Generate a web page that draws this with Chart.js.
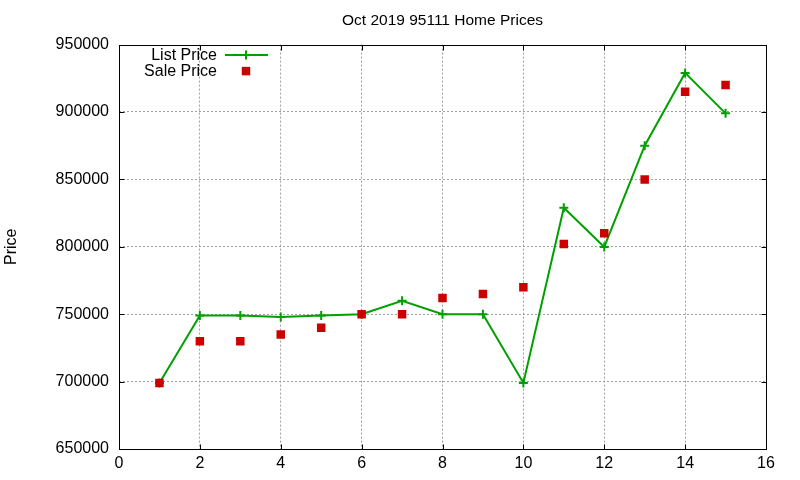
<!DOCTYPE html>
<html>
<head>
<meta charset="utf-8">
<title>Oct 2019 95111 Home Prices</title>
<script src="https://cdn.jsdelivr.net/npm/chart.js@4.4.0/dist/chart.umd.js"></script>
<style>
    body { margin: 0; background: #fff; }
    #wrap { width: 800px; height: 480px; }
</style>
</head>
<body>
<div id="wrap"><canvas id="chart" width="800" height="480"></canvas></div>
<script>
// data
const months = [1, 2, 3, 4, 5, 6, 7, 8, 9, 10, 11, 12, 13, 14, 15];
const listPrice = [699000, 749000, 749000, 748000, 749000, 750000, 759900, 750000, 750000, 699000, 829000, 799900, 875000, 929000, 899000];
const salePrice = [699000, 730000, 730000, 735000, 740000, 750000, 750000, 762000, 765000, 770000, 802000, 810000, 850000, 915000, 920000];
const xTicks = [0, 2, 4, 6, 8, 10, 12, 14, 16];
const yTicks = [650000, 700000, 750000, 800000, 850000, 900000, 950000];

const GREEN = '#00a000';
const RED = '#cc0000';
const GRID = '#a0a0a0';

Chart.defaults.font.family = "'Liberation Sans', Arial, sans-serif";
Chart.defaults.font.size = 16;
Chart.defaults.color = '#000';

const toPoints = (xs, ys) => xs.map((x, i) => ({ x: x, y: ys[i] }));

// grid lines on the frame edges are covered by the border
const gridColor = (min, max) => (ctx) => {
    const v = ctx.tick ? ctx.tick.value : null;
    return (v === min || v === max) ? 'rgba(0,0,0,0)' : GRID;
};

// black frame plus inward tick marks, gnuplot style
const framePlugin = {
    id: 'frame',
    beforeDatasetsDraw(chart) {
        const { ctx, chartArea: a, scales } = chart;
        const L = Math.round(a.left) + 0.5, R = Math.round(a.right) + 0.5;
        const T = Math.round(a.top) + 0.5, B = Math.round(a.bottom) + 0.5;
        const len = 5;
        ctx.save();
        ctx.strokeStyle = '#000';
        ctx.lineWidth = 1;
        ctx.beginPath();
        xTicks.slice(1, -1).forEach(v => {
            const px = Math.round(scales.x.getPixelForValue(v)) + 0.5;
            ctx.moveTo(px, B); ctx.lineTo(px, B - len);
            ctx.moveTo(px, T); ctx.lineTo(px, T + len);
        });
        yTicks.slice(1, -1).forEach(v => {
            const py = Math.round(scales.y.getPixelForValue(v)) + 0.5;
            ctx.moveTo(L, py); ctx.lineTo(L + len, py);
            ctx.moveTo(R, py); ctx.lineTo(R - len, py);
        });
        ctx.stroke();
        ctx.strokeRect(L, T, R - L, B - T);
        ctx.restore();
    }
};

// key in the top-left corner: text on the left, sample on the right
const keyPlugin = {
    id: 'key',
    afterDatasetsDraw(chart) {
        const { ctx, chartArea: a } = chart;
        ctx.save();
        ctx.font = "16px 'Liberation Sans', Arial, sans-serif";
        ctx.fillStyle = '#000';
        ctx.textAlign = 'right';
        ctx.textBaseline = 'middle';
        chart.data.datasets.forEach((ds, i) => {
            const y = a.top + 10 + i * 16;
            ctx.fillText(ds.label, a.left + 98, y + 1);
            if (ds.showLine) {
                ctx.strokeStyle = ds.borderColor;
                ctx.lineWidth = ds.borderWidth;
                ctx.beginPath();
                ctx.moveTo(a.left + 106, y + 0.5);
                ctx.lineTo(a.left + 149, y + 0.5);
                ctx.stroke();
            }
            ctx.fillStyle = ds.pointBackgroundColor;
            ctx.strokeStyle = ds.pointBorderColor;
            Chart.helpers.drawPoint(ctx, {
                pointStyle: ds.pointStyle,
                radius: ds.pointRadius,
                rotation: 0,
                borderWidth: ds.pointBorderWidth
            }, a.left + 127, y + 0.5);
            ctx.fillStyle = '#000';
        });
        ctx.restore();
    }
};

new Chart(document.getElementById('chart'), {
    type: 'scatter',
    data: {
        datasets: [{
            label: 'List Price',
            data: toPoints(months, listPrice),
            showLine: true,
            borderColor: GREEN,
            borderWidth: 2,
            pointStyle: 'cross',
            pointRadius: 4.5,
            pointBorderWidth: 2,
            pointBorderColor: GREEN,
            pointBackgroundColor: GREEN,
            order: 2
        }, {
            label: 'Sale Price',
            data: toPoints(months, salePrice),
            showLine: false,
            borderColor: RED,
            pointStyle: 'rect',
            pointRadius: 6,
            pointBorderWidth: 0,
            pointBorderColor: RED,
            pointBackgroundColor: RED,
            order: 1
        }]
    },
    options: {
        responsive: false,
        animation: false,
        layout: { padding: { left: 0, right: 34, top: 0, bottom: 0 } },
        plugins: {
            legend: { display: false },
            tooltip: { enabled: false },
            title: {
                display: true,
                text: 'Oct 2019 95111 Home Prices',
                fullSize: false,
                font: { size: 15.5, weight: 'normal' },
                color: '#000',
                padding: { top: 11, bottom: 15 }
            }
        },
        scales: {
            x: {
                type: 'linear',
                min: 0,
                max: 16,
                afterBuildTicks: (s) => { s.ticks = xTicks.map(v => ({ value: v })); },
                afterFit: (s) => { s.height = 31; },
                ticks: { padding: 5, callback: (v) => String(v) },
                grid: { color: gridColor(0, 16), drawTicks: false, lineWidth: 1 },
                border: { display: false, dash: [2, 2] }
            },
            y: {
                min: 650000,
                max: 950000,
                afterBuildTicks: (s) => { s.ticks = yTicks.map(v => ({ value: v })); },
                afterFit: (s) => { s.width = 119; },
                ticks: { padding: 10, callback: (v) => String(v) },
                grid: { color: gridColor(650000, 950000), drawTicks: false, lineWidth: 1 },
                border: { display: false, dash: [2, 2] },
                title: { display: true, text: 'Price', font: { size: 16 }, padding: { top: 2, bottom: 0 } }
            }
        }
    },
    plugins: [framePlugin, keyPlugin]
});
</script>
</body>
</html>
